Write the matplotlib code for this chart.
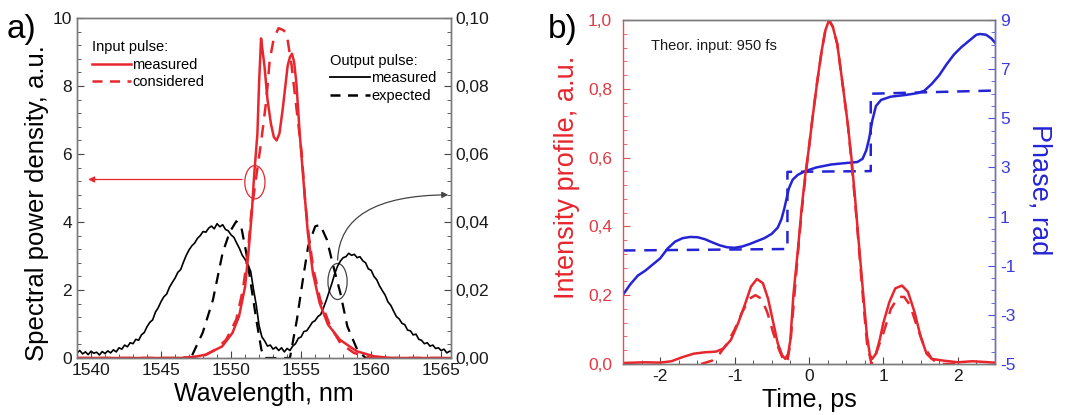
import numpy as np
import matplotlib
matplotlib.use("Agg")
import matplotlib.pyplot as plt
from matplotlib.ticker import MultipleLocator, AutoMinorLocator, FuncFormatter, FixedLocator
from matplotlib.patches import Ellipse
from matplotlib.lines import Line2D

plt.rcParams['font.family'] = ['Liberation Sans', 'DejaVu Sans']
plt.rcParams['axes.unicode_minus'] = False

RED = '#e8262d'
BLUE = '#2424d6'
GRAY = '#7a7a7a'

# ---------------- panel a) data ----------------
# input pulse, measured (red solid)
wl_in_meas = [1539.0, 1544.0, 1547.0, 1548.2, 1549.36, 1550.1, 1550.57, 1551.0, 1551.24, 1551.48,
              1551.64, 1551.88, 1552.0, 1552.14, 1552.26, 1552.38, 1552.6, 1552.84, 1553.05, 1553.25,
              1553.45, 1553.68, 1554.04, 1554.2, 1554.35, 1554.5, 1554.66, 1554.9, 1555.2, 1555.48,
              1555.84, 1556.32, 1556.92, 1557.76, 1558.96, 1560.2, 1561.4, 1565.7]
in_meas = [0.0, 0.0, 0.0, 0.1, 0.34, 0.74, 1.23, 2.1, 3.1, 4.26,
           5.34, 6.6, 8.1, 9.4, 9.0, 8.6, 7.6, 6.9, 6.5, 6.4,
           6.6, 7.3, 8.6, 8.85, 8.95, 8.7, 8.1, 6.6, 5.05, 3.68,
           2.5, 1.62, 0.98, 0.54, 0.2, 0.05, 0.0, 0.0]

# input pulse, considered (red dashed)
wl_in_cons = [1539.0, 1546.0, 1548.0, 1548.9, 1549.65, 1550.37, 1550.84, 1551.2, 1551.44, 1551.8,
              1552.16, 1552.52, 1552.76, 1553.05, 1553.39, 1553.7, 1553.96, 1554.32, 1554.68, 1555.04,
              1555.28, 1555.52, 1555.88, 1556.36, 1557.08, 1557.8, 1558.76, 1560.0, 1565.7]
in_cons = [0.0, 0.0, 0.05, 0.25, 0.54, 1.13, 2.0, 3.1, 4.26, 5.34,
           6.4, 7.6, 8.77, 9.4, 9.7, 9.65, 9.56, 8.6, 7.3, 6.03,
           4.66, 3.68, 2.6, 1.72, 0.93, 0.44, 0.15, 0.0, 0.0]

# output pulse, measured (black solid, noisy)
wl_out_meas = [
    1539.0, 1539.2, 1539.4, 1539.6, 1539.8, 1540.0, 1540.2, 1540.4, 1540.6, 1540.8,
    1541.0, 1541.2, 1541.4, 1541.6, 1541.8, 1542.0, 1542.2, 1542.4, 1542.6, 1542.8,
    1543.0, 1543.2, 1543.4, 1543.6, 1543.8, 1544.0, 1544.2, 1544.4, 1544.6, 1544.8,
    1545.0, 1545.2, 1545.4, 1545.6, 1545.8, 1546.0, 1546.2, 1546.4, 1546.6, 1546.8,
    1547.0, 1547.2, 1547.4, 1547.6, 1547.8, 1548.0, 1548.2, 1548.4, 1548.6, 1548.8,
    1549.0, 1549.2, 1549.4, 1549.6, 1549.8, 1550.0, 1550.2, 1550.4, 1550.6, 1550.8,
    1551.0, 1551.2, 1551.4, 1551.6, 1551.8, 1552.0, 1552.2, 1552.4, 1552.6, 1552.8,
    1553.0, 1553.2, 1553.4, 1553.6, 1553.8, 1554.0, 1554.2, 1554.4, 1554.6, 1554.8,
    1555.0, 1555.2, 1555.4, 1555.6, 1555.8, 1556.0, 1556.2, 1556.4, 1556.6, 1556.8,
    1557.0, 1557.2, 1557.4, 1557.6, 1557.8, 1558.0, 1558.2, 1558.4, 1558.6, 1558.8,
    1559.0, 1559.2, 1559.4, 1559.6, 1559.8, 1560.0, 1560.2, 1560.4, 1560.6, 1560.8,
    1561.0, 1561.2, 1561.4, 1561.6, 1561.8, 1562.0, 1562.2, 1562.4, 1562.6, 1562.8,
    1563.0, 1563.2, 1563.4, 1563.6, 1563.8, 1564.0, 1564.2, 1564.4, 1564.6, 1564.8,
    1565.0, 1565.2, 1565.4, 1565.6, 1565.8]
out_meas = [
    0.15, 0.22, 0.12, 0.18, 0.10, 0.20, 0.14, 0.17, 0.09, 0.19,
    0.13, 0.21, 0.15, 0.24, 0.18, 0.30, 0.26, 0.38, 0.33, 0.45,
    0.42, 0.55, 0.52, 0.68, 0.75, 0.92, 1.05, 1.12, 1.35, 1.48,
    1.66, 1.80, 1.88, 2.08, 2.22, 2.35, 2.52, 2.60, 2.82, 3.02,
    3.18, 3.30, 3.38, 3.52, 3.60, 3.72, 3.70, 3.82, 3.88, 3.80,
    3.95, 3.86, 3.92, 3.78, 3.74, 3.62, 3.55, 3.38, 3.22, 3.02,
    2.90, 2.75, 2.55, 2.02, 1.55, 0.95, 0.62, 0.50, 0.35, 0.38,
    0.26, 0.32, 0.22, 0.30, 0.18, 0.28, 0.22, 0.35, 0.42, 0.58,
    0.62, 0.78, 0.80, 0.92, 1.05, 1.10, 1.22, 1.28, 1.48, 1.70,
    1.95, 2.20, 2.48, 2.70, 2.85, 2.95, 2.98, 3.08, 3.02, 3.05,
    2.95, 2.98, 2.86, 2.80, 2.62, 2.58, 2.40, 2.30, 2.12, 1.98,
    1.85, 1.65, 1.55, 1.38, 1.22, 1.15, 1.02, 0.98, 0.82, 0.80,
    0.68, 0.70, 0.55, 0.52, 0.42, 0.45, 0.35, 0.38, 0.28, 0.30,
    0.22, 0.26, 0.15, 0.20, 0.18]

# output pulse, expected (black dashed)
wl_out_exp = [1546.0, 1547.13, 1547.97, 1548.7, 1549.4, 1549.9, 1550.37, 1550.72, 1551.08, 1551.44,
              1551.8, 1552.16, 1552.4, 1554.2, 1554.7, 1555.16, 1555.5, 1556.0, 1556.36, 1556.84,
              1557.3, 1557.8, 1558.3, 1559.0, 1559.6, 1561.0]
out_exp = [0.0, 0.0, 0.74, 1.7, 3.1, 3.7, 4.02, 3.87, 3.1, 2.1,
           1.13, 0.25, 0.0, 0.0, 1.13, 2.4, 3.28, 3.87, 3.92, 3.48,
           2.7, 1.91, 0.93, 0.25, 0.0, 0.0]

# ---------------- panel b) data ----------------
t_meas = [-2.5, -2.2, -2.0, -1.85, -1.7, -1.55, -1.4, -1.25, -1.15, -1.05,
          -0.95, -0.85, -0.78, -0.70, -0.62, -0.55, -0.48, -0.42, -0.36, -0.32,
          -0.28, -0.25, -0.21, -0.15, -0.10, -0.05, 0.0, 0.05, 0.11, 0.17,
          0.22, 0.27, 0.32, 0.38, 0.46, 0.52, 0.57, 0.62, 0.67, 0.73,
          0.78, 0.82, 0.85, 0.90, 0.95, 1.0, 1.08, 1.16, 1.25, 1.33,
          1.42, 1.5, 1.58, 1.65, 1.8, 2.0, 2.2, 2.5]
int_meas = [0.003, 0.005, 0.004, 0.008, 0.02, 0.03, 0.034, 0.036, 0.045, 0.07,
            0.12, 0.18, 0.225, 0.247, 0.235, 0.19, 0.12, 0.06, 0.025, 0.015,
            0.03, 0.07, 0.20, 0.33, 0.45, 0.55, 0.63, 0.72, 0.82, 0.91,
            0.97, 1.0, 0.98, 0.93, 0.80, 0.70, 0.60, 0.48, 0.35, 0.20,
            0.08, 0.025, 0.015, 0.03, 0.07, 0.12, 0.18, 0.22, 0.228, 0.21,
            0.15, 0.08, 0.03, 0.015, 0.01, 0.005, 0.008, 0.004]

t_theo = [-1.45, -1.3, -1.2, -1.1, -1.0, -0.9, -0.8, -0.72, -0.64, -0.56,
          -0.48, -0.40, -0.33, -0.29, -0.25, -0.20, -0.15, -0.10, -0.05, 0.0,
          0.05, 0.11, 0.17, 0.22, 0.27, 0.32, 0.38, 0.46, 0.52, 0.57,
          0.62, 0.67, 0.73, 0.78, 0.84, 0.9, 1.0, 1.1, 1.2, 1.28,
          1.36, 1.45, 1.55, 1.65, 1.75, 2.0]
int_theo = [0.0, 0.01, 0.03, 0.06, 0.10, 0.15, 0.19, 0.20, 0.19, 0.15,
            0.09, 0.04, 0.005, 0.01, 0.06, 0.19, 0.32, 0.44, 0.54, 0.63,
            0.72, 0.82, 0.91, 0.97, 1.0, 0.98, 0.93, 0.80, 0.70, 0.59,
            0.47, 0.34, 0.18, 0.06, 0.0, 0.03, 0.09, 0.16, 0.195, 0.195,
            0.17, 0.11, 0.05, 0.015, 0.0, 0.0]

t_phase = [-2.5, -2.4, -2.3, -2.2, -2.1, -2.0, -1.9, -1.8, -1.7, -1.6,
           -1.5, -1.4, -1.3, -1.2, -1.1, -1.0, -0.9, -0.8, -0.7, -0.6,
           -0.5, -0.42, -0.37, -0.33, -0.30, -0.27, -0.22, -0.15, -0.05, 0.1,
           0.3, 0.5, 0.65, 0.72, 0.77, 0.81, 0.85, 0.9, 0.97, 1.1,
           1.3, 1.45, 1.55, 1.65, 1.75, 1.85, 1.95, 2.05, 2.15, 2.25,
           2.3, 2.38, 2.45, 2.5]
phase_meas = [-2.18, -1.75, -1.4, -1.2, -0.95, -0.7, -0.3, -0.02, 0.12, 0.17,
              0.16, 0.08, -0.05, -0.17, -0.25, -0.27, -0.22, -0.12, 0.0, 0.12,
              0.3, 0.55, 0.9, 1.35, 1.75, 2.15, 2.5, 2.7, 2.85, 3.0,
              3.12, 3.18, 3.22, 3.35, 3.7, 4.2, 4.9, 5.5, 5.75, 5.88,
              5.95, 6.02, 6.12, 6.4, 6.75, 7.2, 7.6, 7.9, 8.15, 8.4,
              8.43, 8.4, 8.25, 8.08]

t_phase_theo = [-2.5, -0.29, -0.29, 0.83, 0.83, 2.5]
phase_theo = [-0.38, -0.32, 2.82, 2.85, 6.0, 6.13]
phase_ticks = [-5, -3, -1, 1, 3, 5, 7, 9]

# ---------------- figure ----------------
fig = plt.figure(figsize=(10.75, 4.15), dpi=100)
W, H = 1075.0, 415.0


def box(l, r, t, b):
    return [l / W, 1 - b / H, (r - l) / W, (b - t) / H]


def comma(fmt):
    return FuncFormatter(lambda v, p: (fmt % v).replace('.', ','))


# ---------- panel a ----------
ax1 = fig.add_axes(box(77, 451, 18, 358))
ax1r = ax1.twinx()

ax1.plot(wl_out_meas, out_meas, color='black', lw=1.2)
ax1.plot(wl_out_exp, out_exp, color='black', lw=1.6, ls=(0, (5, 3.5)))
ax1.plot(wl_in_meas, in_meas, color=RED, lw=1.8)
ax1.plot(wl_in_cons, in_cons, color=RED, lw=1.8, ls=(0, (5, 3.5)))

ax1.set_xlim(1539.0, 1565.7)
ax1.set_ylim(0, 10)
ax1r.set_ylim(0, 0.10)
ax1.xaxis.set_major_locator(MultipleLocator(5))
ax1.xaxis.set_minor_locator(AutoMinorLocator(5))
ax1.yaxis.set_major_locator(MultipleLocator(2))
ax1.yaxis.set_minor_locator(AutoMinorLocator(5))
ax1r.yaxis.set_major_locator(MultipleLocator(0.02))
ax1r.yaxis.set_minor_locator(AutoMinorLocator(5))
ax1r.yaxis.set_major_formatter(comma('%.2f'))

for a in (ax1, ax1r):
    for s in a.spines.values():
        s.set_color(GRAY)
        s.set_linewidth(1.0)
    a.tick_params(which='both', direction='in', colors='#444444', labelcolor='#1a1a1a', labelsize=12.5)
    a.tick_params(which='major', length=5)
    a.tick_params(which='minor', length=3)

ax1.set_xlabel('Wavelength, nm', fontsize=18, labelpad=3)
ax1.set_ylabel('Spectral power density, a.u.', fontsize=18.5)
ax1.yaxis.set_label_coords(-0.075, 0.455)

# annotations
ax1.add_patch(Ellipse((1551.7, 5.17), 1.44, 0.98, fill=False, ec=RED, lw=0.9))
ax1.annotate('', xy=(1539.6, 5.25), xytext=(1550.98, 5.25),
             arrowprops=dict(arrowstyle='-|>', color=RED, lw=0.9, mutation_scale=9))
ax1.add_patch(Ellipse((1557.6, 2.25), 1.37, 1.06, fill=False, ec='#444444', lw=0.9))
ax1.annotate('', xy=(1565.7, 4.8), xytext=(1557.6, 2.8),
             arrowprops=dict(arrowstyle='-|>', color='#444444', lw=0.9, mutation_scale=9,
                             connectionstyle='angle3,angleA=90,angleB=0'))

leg1 = ax1.legend(handles=[Line2D([], [], color=RED, lw=1.8),
                           Line2D([], [], color=RED, lw=1.8, ls=(0, (4, 3)))],
                  labels=['measured', 'considered'], title='Input pulse:',
                  loc='upper left', bbox_to_anchor=(0.012, 0.965), frameon=False,
                  fontsize=10.5, title_fontsize=10.5, handlelength=2.7, handletextpad=0.1,
                  labelspacing=0.25, borderaxespad=0.3)
leg1._legend_box.align = 'left'
ax1.add_artist(leg1)
leg2 = ax1.legend(handles=[Line2D([], [], color='black', lw=1.3),
                           Line2D([], [], color='black', lw=1.8, ls=(0, (4, 3)))],
                  labels=['measured', 'expected'], title='Output pulse:',
                  loc='upper left', bbox_to_anchor=(0.65, 0.925), frameon=False,
                  fontsize=10.5, title_fontsize=10.5, handlelength=2.7, handletextpad=0.1,
                  labelspacing=0.25, borderaxespad=0.3)
leg2._legend_box.align = 'left'

fig.text(7 / W, 1 - 38 / H, 'a)', fontsize=24)

# ---------- panel b ----------
ax2 = fig.add_axes(box(623, 995, 20, 364))
ax2r = ax2.twinx()

ax2r.plot(t_phase, phase_meas, color=BLUE, lw=1.8)
ax2r.plot(t_phase_theo, phase_theo, color=BLUE, lw=1.8, ls=(0, (5, 3.5)))
ax2.plot(t_meas, int_meas, color=RED, lw=1.8)
ax2.plot(t_theo, int_theo, color=RED, lw=1.8, ls=(0, (5, 3.5)))
ax2.set_zorder(ax2r.get_zorder() + 1)
ax2.patch.set_visible(False)

ax2.set_xlim(-2.5, 2.5)
ax2.set_ylim(0, 1.0)
ax2r.set_ylim(-5, 9)
ax2.xaxis.set_major_locator(MultipleLocator(1))
ax2.xaxis.set_minor_locator(AutoMinorLocator(4))
ax2.yaxis.set_major_locator(MultipleLocator(0.2))
ax2.yaxis.set_minor_locator(AutoMinorLocator(5))
ax2.yaxis.set_major_formatter(comma('%.1f'))
ax2r.yaxis.set_major_locator(FixedLocator(phase_ticks))
ax2r.yaxis.set_minor_locator(MultipleLocator(0.5))
ax2.xaxis.set_major_formatter(FuncFormatter(lambda v, p: '%d' % round(v)))

for a in (ax2, ax2r):
    for s in a.spines.values():
        s.set_color(GRAY)
        s.set_linewidth(1.0)
    a.tick_params(which='both', direction='in', labelsize=12.5)
    a.tick_params(which='major', length=5)
    a.tick_params(which='minor', length=3)
ax2.tick_params(axis='x', which='both', colors='#444444', labelcolor='#1a1a1a')
ax2.tick_params(axis='y', which='both', colors='#e05058', labelcolor='#e03a42', pad=8)
ax2r.tick_params(axis='y', which='both', colors='#5050e0', labelcolor='#3a3ae0')
ax2.spines['left'].set_color('#e05058')
ax2r.spines['left'].set_visible(False)
ax2r.spines['right'].set_color('#5050e0')

ax2.set_xlabel('Time, ps', fontsize=18, labelpad=3)
ax2.set_ylabel('Intensity profile, a.u.', fontsize=19.5, color=RED)
ax2.yaxis.set_label_coords(-0.116, 0.544)
ax2r.set_ylabel('Phase, rad', fontsize=19.5, color=BLUE, rotation=-90, va='bottom')
ax2r.yaxis.set_label_coords(1.086, 0.506)

ax2.text(0.075, 0.925, 'Theor. input: 950 fs', transform=ax2.transAxes, fontsize=10.5,
         color='#1a1a1a', va='center', ha='left')

fig.text(548 / W, 1 - 38 / H, 'b)', fontsize=24)

fig.savefig('out.png', dpi=100)
